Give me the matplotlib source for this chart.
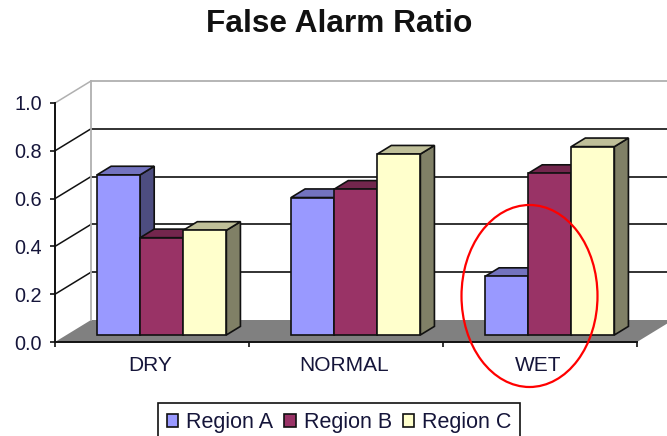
import matplotlib
matplotlib.use("Agg")
import matplotlib.pyplot as plt
from matplotlib.patches import Polygon, Ellipse, Patch
from matplotlib.colors import to_rgb

categories = ["DRY", "NORMAL", "WET"]
series_names = ["Region A", "Region B", "Region C"]
region_a = [0.67, 0.575, 0.245]
region_b = [0.407, 0.61, 0.676]
region_c = [0.438, 0.757, 0.788]
y_ticks = [0.0, 0.2, 0.4, 0.6, 0.8, 1.0]
colors = ["#9999FF", "#993366", "#FFFFCC"]

W, H = 667, 436
plt.rcParams["font.family"] = ["Liberation Sans", "DejaVu Sans"]
fig = plt.figure(figsize=(W / 100, H / 100), dpi=100)
L, R, Y0, Y1 = 55, 637, 342, 103
ax = fig.add_axes([L / W, 1 - Y0 / H, (R - L) / W, (Y0 - Y1) / H])
ax.set_xlim(0, 3)
ax.set_ylim(0, 1)
ax.patch.set_alpha(0)

ux = (R - L) / 3          # pixels per category
uy = Y0 - Y1              # pixels per unit value
DX, DY = 36 / ux, 22 / uy  # full chart depth, data units
BAR_FX, BAR_FY, BAR_D = 0.27, 0.32, 0.39  # bar front offset and depth, fraction of chart depth
GAP = 1.5
w = 1 / (3 + GAP)
TEXT = "#15153a"

# floor
ax.add_patch(Polygon([(0, 0), (3, 0), (3 + DX, DY), (DX, DY)], closed=True,
                     fc="#808080", ec="none", zorder=1, clip_on=False))
# walls and gridlines
for v in y_ticks[1:]:
    c = "#b0b0b0" if v == 1.0 else "#111111"
    ax.plot([0, DX], [v, v + DY], color=c, lw=1.1, zorder=1.5, clip_on=False)
    ax.plot([DX, 3 + DX], [v + DY, v + DY], color=c if v == 1.0 else "#222222",
            lw=1.3, zorder=1.5, clip_on=False)
ax.plot([DX, DX], [DY, 1 + DY], color="#b0b0b0", lw=1.3, zorder=1.5, clip_on=False)


def shade(col, f):
    return tuple(x * f for x in to_rgb(col))


# bars, painted left to right
z = 3
fx, fy = BAR_FX * DX, BAR_FY * DY
bx, by = BAR_D * DX, BAR_D * DY
for i in range(len(categories)):
    for s, vals in enumerate([region_a, region_b, region_c]):
        v = vals[i]
        x0 = i + GAP / 2 * w + s * w + fx
        x1 = x0 + w
        y0 = fy
        y1 = v + fy
        ax.add_patch(Polygon([(x1, y0), (x1 + bx, y0 + by), (x1 + bx, y1 + by), (x1, y1)],
                             fc=shade(colors[s], 0.5), ec="#111111", lw=1.2, zorder=z, clip_on=False))
        ax.add_patch(Polygon([(x0, y1), (x1, y1), (x1 + bx, y1 + by), (x0 + bx, y1 + by)],
                             fc=shade(colors[s], 0.75), ec="#111111", lw=1.2, zorder=z, clip_on=False))
        ax.bar(x0, v, width=w, bottom=y0, align="edge", color=colors[s],
               edgecolor="#111111", linewidth=1.2, zorder=z, clip_on=False)
        z += 1

# axes
for sp in ("top", "right"):
    ax.spines[sp].set_visible(False)
for sp in ("left", "bottom"):
    ax.spines[sp].set_linewidth(1.4)
    ax.spines[sp].set_color("#111111")
    ax.spines[sp].set_zorder(2)
ax.set_yticks(y_ticks)
ax.set_yticklabels([f"{t:.1f}" for t in y_ticks], fontsize=14.3, color=TEXT)
ax.tick_params(axis="y", length=3.5, width=1.2, pad=6, color="#111111")
ax.set_xticks([0, 1, 2, 3])
ax.set_xticklabels([])
ax.tick_params(axis="x", which="major", length=3.5, width=1.2, color="#111111")
ax.set_xticks([i + 0.49 for i in range(3)], minor=True)
ax.set_xticklabels(categories, minor=True, fontsize=15, color=TEXT)
ax.tick_params(axis="x", which="minor", length=0, pad=10)

fig.text(339.5 / W, 1 - 24.5 / H, "False Alarm Ratio", ha="center", va="center",
         fontsize=22.8, fontweight="bold", color="#111111")

# highlight ellipse (figure pixel space)
fig.add_artist(Ellipse((529.5 / W, 1 - 296 / H), 136 / W, 182 / H, transform=fig.transFigure,
                       fc="none", ec="#FF0000", lw=1.6, zorder=20))

handles = [Patch(fc=c, ec="#111111", lw=1.2) for c in colors]
leg = fig.legend(handles, series_names, loc="upper left", ncol=3,
                 bbox_to_anchor=(158 / W, 1 - 403 / H), borderaxespad=0,
                 fontsize=15.5, frameon=True, fancybox=False, framealpha=1,
                 edgecolor="#111111", handlelength=0.52, handleheight=0.52,
                 handletextpad=0.38, columnspacing=0.5, borderpad=0.42,
                 labelcolor=TEXT)
leg.get_frame().set_linewidth(1.2)
fig.savefig("out.png", dpi=100)
